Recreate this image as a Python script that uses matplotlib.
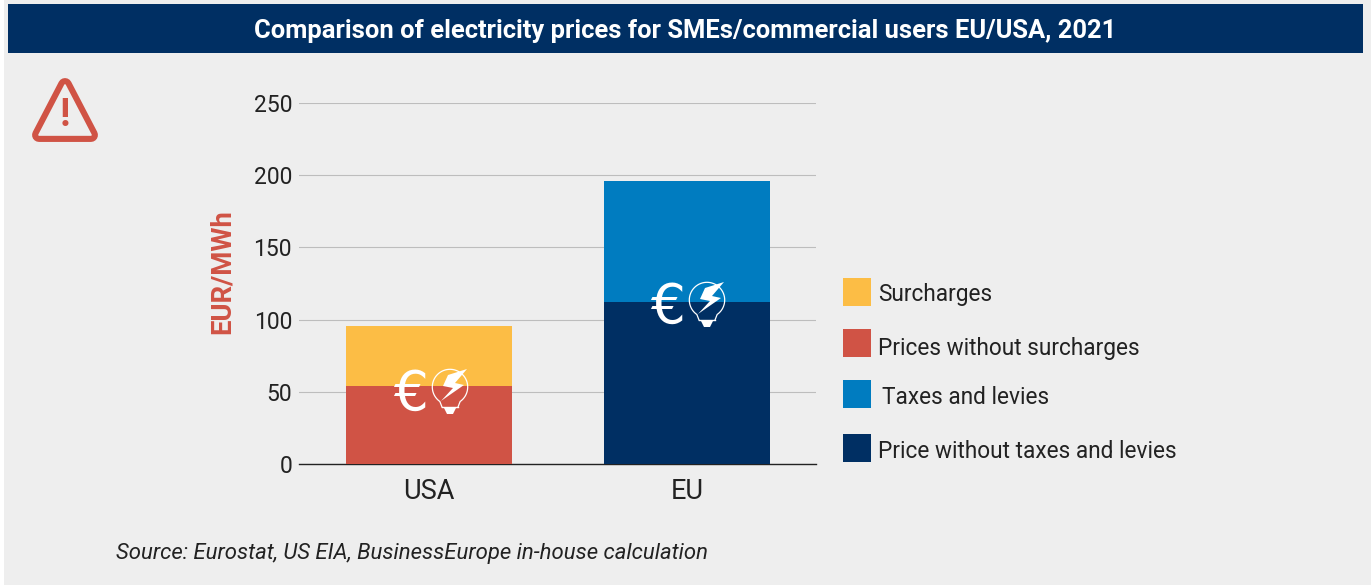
import numpy as np
import matplotlib
matplotlib.use('Agg')
import matplotlib.pyplot as plt
from matplotlib.patches import Rectangle, Polygon

W, H = 1371, 585
bg = '#eeeeee'
navy = '#002f63'
red = '#d05345'
yellow = '#fcbd45'
blue = '#007cc0'
txt = '#222222'

title = 'Comparison of electricity prices for SMEs/commercial users EU/USA, 2021'
categories = ['USA', 'EU']
lower_values = [54, 112]
upper_values = [41.5, 84]
lower_colors = [red, navy]
upper_colors = [yellow, blue]
yticks = [0, 50, 100, 150, 200, 250]
ylabel = 'EUR/MWh'
legend_labels = ['Surcharges', 'Prices without surcharges', 'Taxes and levies', 'Price without taxes and levies']
legend_colors = [yellow, red, blue, navy]
source = 'Source: Eurostat, US EIA, BusinessEurope in-house calculation'

plt.rcParams['font.family'] = ['Roboto', 'DejaVu Sans']

fig = plt.figure(figsize=(W / 100, H / 100), dpi=100, facecolor='white')

# page background in pixel coords
pg = fig.add_axes([0, 0, 1, 1])
pg.set_xlim(0, W)
pg.set_ylim(H, 0)
pg.axis('off')
pg.add_patch(Rectangle((4, 0), W - 4, H, color=bg, lw=0))
pg.add_patch(Rectangle((8, 4), 1355, 49, color=navy, lw=0))
pg.text(685, 31, title, color='white', fontsize=18.4, fontweight='bold', ha='center', va='center')

# warning sign
tri = [[65, 85], [91, 135], [39, 135]]
pg.add_patch(Polygon(tri, closed=True, fc=red, ec=red, lw=10, joinstyle='round'))
pg.add_patch(Polygon(tri, closed=True, fc=bg, ec=bg, lw=1.2, joinstyle='round'))
pg.text(65, 115, '!', color=red, fontsize=28, fontweight='bold', ha='center', va='center')

# bars
ax = fig.add_axes([299 / W, 1 - 464 / H, 517 / W, 361 / H])
ax.set_facecolor('none')
x = np.arange(len(categories))
ax.bar(x, lower_values, width=0.642, color=lower_colors, zorder=3)
ax.bar(x, upper_values, width=0.642, bottom=lower_values, color=upper_colors, zorder=3)
ax.set_xlim(-0.502, 1.498)
ax.set_ylim(0, 250)
ax.set_yticks(yticks)
ax.set_yticklabels(yticks, va='center_baseline')
ax.set_xticks(x)
ax.set_xticklabels(categories, fontsize=19.5, color=txt)
ax.tick_params(axis='y', length=0, labelsize=16.5, labelcolor=txt, pad=5)
ax.tick_params(axis='x', length=0, pad=10)
ax.grid(axis='y', color='#bdbdbd', lw=0.8, zorder=0)
ax.set_axisbelow(True)
for s in ['top', 'left', 'right']:
    ax.spines[s].set_visible(False)
ax.spines['bottom'].set_color('#222222')
ax.spines['bottom'].set_linewidth(1.0)

# overlay on top of the bars, pixel coords again
ov = fig.add_axes([0, 0, 1, 1])
ov.set_xlim(0, W)
ov.set_ylim(H, 0)
ov.axis('off')
ov.patch.set_alpha(0)
ov.text(222, 272, ylabel, color=red, fontsize=19.8, fontweight='bold', rotation=90, ha='center', va='center')


def icon(ex, ey):
    # ex, ey = centre of the euro sign
    ov.text(ex, ey, '€', color='white', fontsize=39.5, family='DejaVu Sans', ha='center', va='center_baseline')
    bx, by = ex + 40, ey - 2
    t = np.radians(np.linspace(235, -55, 50))
    head = np.column_stack([bx + 17.7 * np.cos(t), by - 17.7 * np.sin(t)])
    outline = np.vstack([[[bx - 8, by + 20]], head, [[bx + 8, by + 20]]])
    ov.plot(outline[:, 0], outline[:, 1], color='white', lw=0.9)
    ov.plot([bx - 8, bx + 8], [by + 20, by + 20], color='white', lw=1.0)
    ov.add_patch(Polygon([[bx - 6, by + 21], [bx + 6, by + 21], [bx + 3, by + 27], [bx - 3, by + 27]],
                         closed=True, color='white', lw=0))
    ov.add_patch(Polygon([[bx + 17, by - 18], [bx - 2, by - 12], [bx - 7, by - 1], [bx + 3, by + 1],
                          [bx - 9, by + 14], [bx + 14, by - 2], [bx + 5, by - 4]],
                         closed=True, color='white', lw=0))


icon(410, 389)
icon(667, 302)

# legend
box_y = [292, 343, 394, 448]
text_x = [878, 878, 882, 878]
text_y = [294, 348, 397, 452]
for lab, col, y0, x0, y1 in zip(legend_labels, legend_colors, box_y, text_x, text_y):
    ov.add_patch(Rectangle((843, y0 - 14), 28, 28, color=col, lw=0))
    ov.text(x0, y1, lab, color=txt, fontsize=16.3, ha='left', va='center')

ov.text(116, 554, source, color=txt, fontsize=15.9, fontstyle='italic', ha='left', va='center')

fig.savefig('out.png', dpi=100, facecolor=fig.get_facecolor())
